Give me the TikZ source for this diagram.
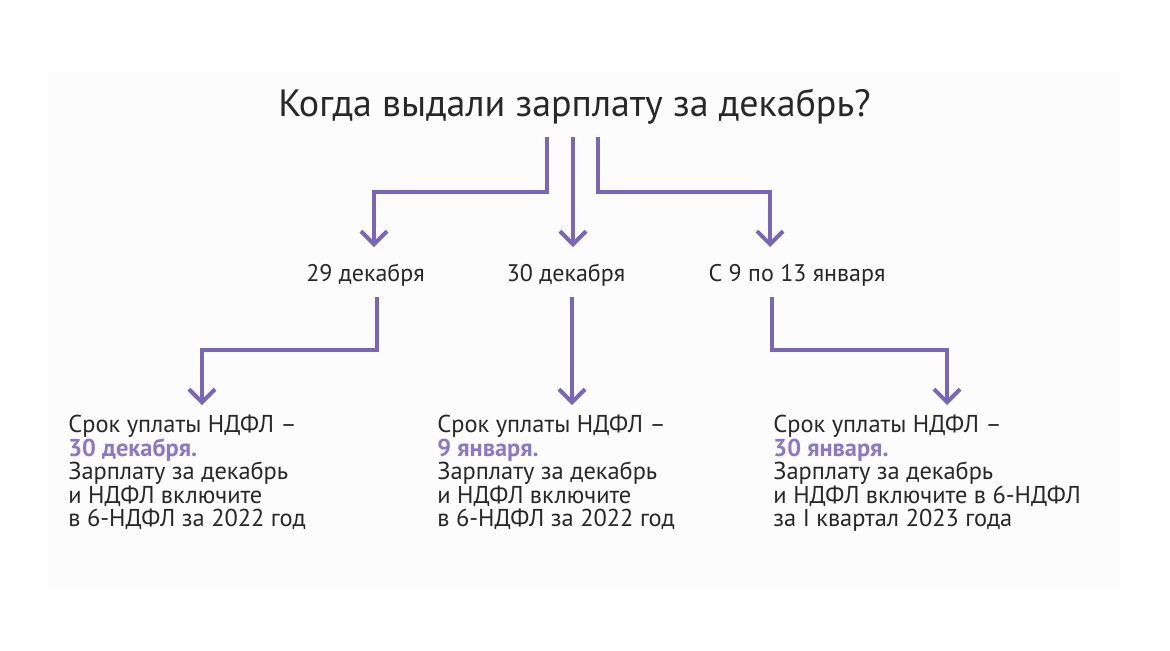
\documentclass[tikz,border=0pt]{standalone}
\usepackage{fontspec}
\setmainfont{PT Sans}
\usetikzlibrary{arrows.meta}
\definecolor{arrcol}{RGB}{122,102,182}
\definecolor{hlcol}{RGB}{138,120,200}
\definecolor{txtcol}{RGB}{40,40,40}
\definecolor{bgcol}{RGB}{252,252,252}
\tikzset{
  arr/.style={draw=arrcol, line width=2pt, -{Straight Barb[width=13pt,length=6.5pt,line width=2pt]}},
  title/.style={font=\fontsize{19}{23}\selectfont, text=txtcol, inner sep=0pt, anchor=base},
  datelbl/.style={font=\fontsize{12}{14}\selectfont, text=txtcol, inner sep=0pt, anchor=base},
  info/.style={font=\fontsize{12.2}{11.7}\selectfont, text=txtcol, inner sep=0pt, anchor=north west, align=left}
}
\newcommand{\hlt}[1]{\textcolor{hlcol}{\textbf{#1}}}
\begin{document}
\begin{tikzpicture}[x=0.5pt,y=-0.5pt]
\useasboundingbox (0,0) rectangle (1170,650);
\fill[bgcol] (48,72) rectangle (1120,590);
\node[title] (q) at (574.5,116) {Когда выдали зарплату за декабрь?};
\node[datelbl] (d1) at (365.5,281) {29 декабря};
\node[datelbl] (d2) at (566,281) {30 декабря};
\node[datelbl] (d3) at (797,281) {С 9 по 13 января};
\node[info] (t1) at (68,415) {Срок уплаты НДФЛ –\\\hlt{30 декабря.}\\Зарплату за декабрь\\и НДФЛ включите\\в 6-НДФЛ за 2022 год};
\node[info] (t2) at (437,415) {Срок уплаты НДФЛ –\\\hlt{9 января.}\\Зарплату за декабрь\\и НДФЛ включите\\в 6-НДФЛ за 2022 год};
\node[info] (t3) at (773,415) {Срок уплаты НДФЛ –\\\hlt{30 января.}\\Зарплату за декабрь\\и НДФЛ включите в 6-НДФЛ\\за I квартал 2023 года};
% top connectors
\coordinate (s1) at (547,137);
\coordinate (s2) at (573,137);
\coordinate (s3) at (598,137);
\coordinate (e1) at (374,247);
\coordinate (e2) at (573,247);
\coordinate (e3) at (770,247);
\draw[arr] (s1) -- (547,192) -| (e1);
\draw[arr] (s2) -- (e2);
\draw[arr] (s3) -- (598,192) -| (e3);
% lower connectors
\coordinate (u1) at (377,297);
\coordinate (u2) at (572,297);
\coordinate (u3) at (772,297);
\coordinate (f1) at (202,405);
\coordinate (f2) at (572,405);
\coordinate (f3) at (947,405);
\draw[arr] (u1) -- (377,350) -| (f1);
\draw[arr] (u2) -- (f2);
\draw[arr] (u3) -- (772,350) -| (f3);
\end{tikzpicture}
\end{document}
